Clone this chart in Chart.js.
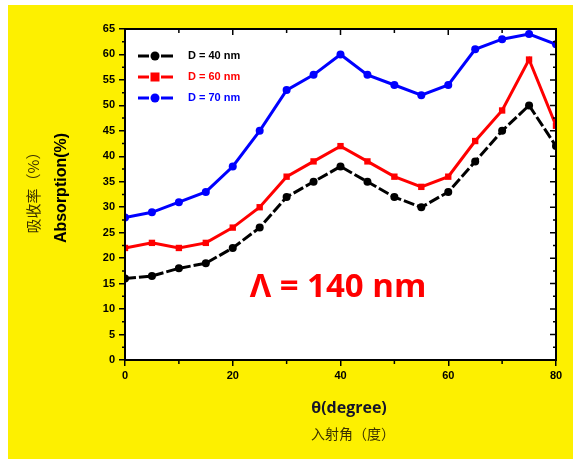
<!DOCTYPE html>
<html>
<head>
<meta charset="utf-8">
<script src="https://cdn.jsdelivr.net/npm/chart.js@4"></script>
<style>
html,body{margin:0;padding:0;background:#fff;}
#wrap{position:absolute;left:0;top:0;width:573px;height:459px;}
</style>
</head>
<body>
<div id="wrap"><canvas id="c" width="573" height="459"></canvas></div>
<script>
const angles = [0, 5, 10, 15, 20, 25, 30, 35, 40, 45, 50, 55, 60, 65, 70, 75, 80];
const seriesLabels = ['D = 40 nm', 'D = 60 nm', 'D = 70 nm'];
const d40 = [16, 16.5, 18, 19, 22, 26, 32, 35, 38, 35, 32, 30, 33, 39, 45, 50, 42];
const d60 = [22, 23, 22, 23, 26, 30, 36, 39, 42, 39, 36, 34, 36, 43, 49, 59, 46];
const d70 = [28, 29, 31, 33, 38, 45, 53, 56, 60, 56, 54, 52, 54, 61, 63, 64, 62];
const xTicks = [0, 20, 40, 60, 80];
const yTicks = [0, 5, 10, 15, 20, 25, 30, 35, 40, 45, 50, 55, 60, 65];
const titleText = 'Λ = 140 nm';
const xTitleEn = 'θ(degree)';
const xTitleZh = '入射角（度）';
const yTitleEn = 'Absorption(%)';
const yTitleZh = '吸收率（%）';

const colors = ['#000000', '#ff0000', '#0000ff'];
const shapes = ['circle', 'rect', 'circle'];
const dashes = [[11, 3], [], []];

function pts(arr) { return angles.map((a, i) => ({x: a, y: arr[i]})); }

const datasets = [d40, d60, d70].map((arr, i) => ({
  label: seriesLabels[i],
  data: pts(arr),
  borderColor: colors[i],
  backgroundColor: colors[i],
  borderWidth: 3,
  borderDash: dashes[i],
  pointStyle: shapes[i],
  pointRadius: shapes[i] === 'rect' ? 4.5 : 4,
  pointBorderWidth: 0,
  tension: 0
}));

const FONT = '"Liberation Sans", Arial, sans-serif';

const decor = {
  id: 'decor',
  beforeDraw(chart) {
    const ctx = chart.ctx, a = chart.chartArea;
    ctx.save();
    ctx.fillStyle = '#ffffff';
    ctx.fillRect(0, 0, chart.width, chart.height);
    ctx.fillStyle = '#fdf000';
    ctx.fillRect(8, 5, chart.width - 8, chart.height - 5);
    ctx.fillStyle = '#ffffff';
    ctx.fillRect(a.left, a.top, a.right - a.left, a.bottom - a.top);
    ctx.restore();
  },
  afterDraw(chart) {
    const ctx = chart.ctx, a = chart.chartArea;
    const xs = chart.scales.x, ys = chart.scales.y;
    ctx.save();
    ctx.strokeStyle = '#000';
    ctx.lineWidth = 1.5;
    ctx.beginPath();
    for (let v = 0; v <= 65.001; v += 2.5) {
      const y = ys.getPixelForValue(v);
      const major = Math.abs(v % 5) < 0.01;
      if (!major) { ctx.moveTo(a.left - 3, y); ctx.lineTo(a.left, y); }
      const len = major ? 6 : 3;
      ctx.moveTo(a.right, y); ctx.lineTo(a.right - len, y);
    }
    for (let v = 0; v <= 80.001; v += 10) {
      const x = xs.getPixelForValue(v);
      const major = Math.abs(v % 20) < 0.01;
      if (!major) { ctx.moveTo(x, a.bottom); ctx.lineTo(x, a.bottom + 4); }
      const len = major ? 6 : 4;
      ctx.moveTo(x, a.top); ctx.lineTo(x, a.top + len);
    }
    ctx.stroke();
    ctx.lineWidth = 2;
    ctx.strokeRect(a.left, a.top, a.right - a.left, a.bottom - a.top);

    const rows = [27, 48, 69];
    chart.data.datasets.forEach((ds, i) => {
      const y = a.top + rows[i];
      const x0 = a.left + 13, xm = a.left + 30, x1 = a.left + 48;
      ctx.strokeStyle = ds.borderColor;
      ctx.fillStyle = ds.borderColor;
      ctx.lineWidth = 3;
      ctx.setLineDash([]);
      ctx.beginPath();
      ctx.moveTo(x0, y); ctx.lineTo(xm - 6, y);
      ctx.moveTo(xm + 6, y); ctx.lineTo(x1, y);
      ctx.stroke();
      ctx.beginPath();
      if (ds.pointStyle === 'rect') {
        ctx.fillRect(xm - 4.5, y - 4.5, 9, 9);
      } else {
        ctx.arc(xm, y, 4.5, 0, Math.PI * 2);
        ctx.fill();
      }
      ctx.font = 'bold 11px ' + FONT;
      ctx.textAlign = 'left';
      ctx.textBaseline = 'middle';
      ctx.fillText(ds.label, a.left + 63, y);
    });

    ctx.fillStyle = '#ff0000';
    ctx.font = 'bold 33px "Open Sans", ' + FONT;
    ctx.textAlign = 'center';
    ctx.textBaseline = 'middle';
    ctx.fillText(titleText, 338, 288);

    ctx.fillStyle = '#14142a';
    ctx.font = 'bold 16px "Open Sans", ' + FONT;
    ctx.fillText(xTitleEn, 349, 408);
    ctx.fillStyle = '#3a3000';
    ctx.font = '14px "Noto Sans CJK SC", sans-serif';
    ctx.fillText(xTitleZh, 353, 434);

    ctx.save();
    ctx.translate(62, 188);
    ctx.rotate(-Math.PI / 2);
    ctx.fillStyle = '#000';
    ctx.font = 'bold 16px ' + FONT;
    ctx.fillText(yTitleEn, 0, 0);
    ctx.restore();
    ctx.save();
    ctx.translate(33, 189);
    ctx.rotate(-Math.PI / 2);
    ctx.fillStyle = '#3a3000';
    ctx.font = '15px "Noto Sans CJK SC", sans-serif';
    ctx.fillText(yTitleZh, 0, 0);
    ctx.restore();
    ctx.restore();
  }
};

new Chart(document.getElementById('c'), {
  type: 'line',
  data: { datasets },
  options: {
    responsive: false,
    animation: false,
    layout: { padding: { left: 0, top: 29, right: 17, bottom: 0 } },
    plugins: { legend: { display: false }, tooltip: { enabled: false }, title: { display: false } },
    scales: {
      x: {
        type: 'linear', min: 0, max: 80,
        afterBuildTicks: s => { s.ticks = xTicks.map(v => ({value: v})); },
        afterFit: s => { s.height = 99; },
        grid: { display: true, drawOnChartArea: false, drawTicks: true, tickLength: 6, color: '#000', lineWidth: 1.5 },
        border: { display: true, color: '#000', width: 2 },
        ticks: { color: '#000', font: { family: FONT, size: 11, weight: 'bold' }, padding: 3, maxRotation: 0 }
      },
      y: {
        type: 'linear', min: 0, max: 65,
        afterBuildTicks: s => { s.ticks = yTicks.map(v => ({value: v})); },
        afterFit: s => { s.width = 125; },
        grid: { display: true, drawOnChartArea: false, drawTicks: true, tickLength: 6, color: '#000', lineWidth: 1.5 },
        border: { display: true, color: '#000', width: 2 },
        ticks: { color: '#000', font: { family: FONT, size: 11, weight: 'bold' }, padding: 4 }
      }
    }
  },
  plugins: [decor]
});
</script>
</body>
</html>
